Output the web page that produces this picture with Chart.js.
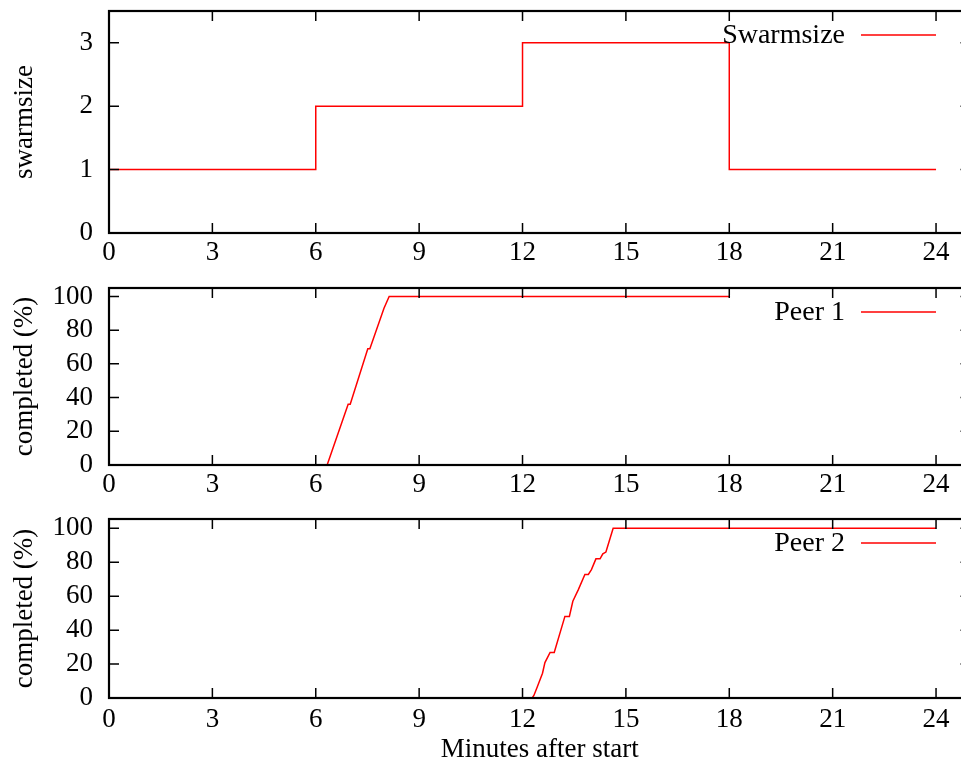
<!DOCTYPE html>
<html>
<head>
<meta charset="utf-8">
<script src="https://cdn.jsdelivr.net/npm/chart.js@4"></script>
<style>
  html, body { margin: 0; padding: 0; background: #fff; overflow: hidden; width: 961px; height: 763px; }
  .panel { position: absolute; left: 0; }
</style>
</head>
<body>
<div class="panel" style="top:0"><canvas id="swarm" width="975" height="270"></canvas></div>
<div class="panel" style="top:270px"><canvas id="peer1" width="975" height="230"></canvas></div>
<div class="panel" style="top:500px"><canvas id="peer2" width="975" height="266"></canvas></div>
<script>
// -------------------------
// Data
// -------------------------
const xTicks = [0, 3, 6, 9, 12, 15, 18, 21, 24];
const swarmTicks = [0, 1, 2, 3];
const pctTicks = [0, 20, 40, 60, 80, 100];

const swarmMinutes = [0, 0, 6, 12, 18, 24];
const swarmSize = [0, 1, 2, 3, 1, 1];

const peer1Minutes = [0, 6.33, 6.94, 7.0, 7.51, 7.57, 7.98, 8.13, 18];
const peer1Percent = [0, 0, 36, 36, 69, 69, 93, 100, 100];

const peer2Minutes = [0, 12.28, 12.33, 12.43, 12.58, 12.65, 12.80, 12.92, 13.23, 13.36, 13.46, 13.62, 13.81, 13.91, 14.0, 14.13, 14.25, 14.33, 14.42, 14.63, 24];
const peer2Percent = [0, 0, 1.5, 6.6, 14.6, 20.9, 26.8, 26.8, 48.1, 48.1, 57, 63.9, 72.8, 72.8, 75.7, 82, 82, 85, 86, 100, 100];

const FONT = 'Liberation Serif';
const toPoints = (xs, ys) => xs.map((x, i) => ({ x, y: ys[i] }));

// -------------------------
// gnuplot-like frame, inward ticks and key
// -------------------------
const gnuplotFrame = {
    id: 'gnuplotFrame',
    afterDatasetsDraw(chart) {
        const { ctx, chartArea: a, scales: { x, y } } = chart;
        ctx.save();
        ctx.strokeStyle = '#000';
        ctx.lineWidth = 1.5;
        ctx.beginPath();
        x.ticks.forEach(t => {
            const px = x.getPixelForValue(t.value);
            ctx.moveTo(px, a.bottom); ctx.lineTo(px, a.bottom - 10);
            ctx.moveTo(px, a.top); ctx.lineTo(px, a.top + 10);
        });
        y.ticks.forEach(t => {
            const py = y.getPixelForValue(t.value);
            ctx.moveTo(a.left, py); ctx.lineTo(a.left + 10, py);
            ctx.moveTo(a.right, py); ctx.lineTo(a.right - 10, py);
        });
        ctx.stroke();
        ctx.lineWidth = 2.2;
        ctx.strokeRect(a.left, a.top, a.right - a.left, a.bottom - a.top);

        // key, top right
        const ds = chart.data.datasets[0];
        const ky = a.top + 24;
        ctx.font = '28px "' + FONT + '"';
        ctx.fillStyle = '#000';
        ctx.textAlign = 'right';
        ctx.textBaseline = 'middle';
        ctx.fillText(ds.label, 845, ky + 1);
        ctx.strokeStyle = ds.borderColor;
        ctx.lineWidth = ds.borderWidth;
        ctx.beginPath();
        ctx.moveTo(861, ky); ctx.lineTo(936, ky);
        ctx.stroke();
        ctx.restore();
    }
};

function makePanel(id, label, points, yMax, yTicks, yTitle, opts) {
    const ctx = document.getElementById(id).getContext('2d');
    return new Chart(ctx, {
        type: 'line',
        data: {
            datasets: [{
                label: label,
                data: points,
                borderColor: '#ff0000',
                borderWidth: 1.5,
                pointRadius: 0,
                fill: false,
                tension: 0,
                stepped: opts.stepped || false
            }]
        },
        options: {
            responsive: false,
            animation: false,
            devicePixelRatio: 1,
            layout: { padding: { top: opts.top, right: 4.5, left: 0, bottom: 0 } },
            plugins: { legend: { display: false }, tooltip: { enabled: false } },
            scales: {
                x: {
                    type: 'linear',
                    min: 0,
                    max: 25,
                    grid: { display: false, drawTicks: false },
                    border: { display: false },
                    afterBuildTicks: s => { s.ticks = xTicks.map(v => ({ value: v })); },
                    afterFit: s => { s.height = opts.xHeight; s.paddingLeft = 0; s.paddingRight = 0; },
                    ticks: { color: '#000', font: { family: FONT, size: 27 }, padding: opts.xPad || 4, maxRotation: 0, autoSkip: false },
                    title: {
                        display: !!opts.xTitle,
                        text: opts.xTitle || '',
                        color: '#000',
                        font: { family: FONT, size: 27 },
                        padding: { top: 0, bottom: 0 }
                    }
                },
                y: {
                    min: 0,
                    max: yMax,
                    grid: { display: false, drawTicks: false },
                    border: { display: false },
                    afterBuildTicks: s => { s.ticks = yTicks.map(v => ({ value: v })); },
                    afterFit: s => { s.width = 109; s.paddingTop = 0; s.paddingBottom = 0; },
                    ticks: { color: '#000', font: { family: FONT, size: 27 }, padding: 16 },
                    title: {
                        display: true,
                        text: yTitle,
                        color: '#000',
                        font: { family: FONT, size: 27 },
                        padding: { top: 9, bottom: 0 }
                    }
                }
            }
        },
        plugins: [gnuplotFrame]
    });
}

makePanel('swarm', 'Swarmsize', toPoints(swarmMinutes, swarmSize), 3.5, swarmTicks, 'swarmsize',
    { top: 11, xHeight: 37, stepped: 'before' });
makePanel('peer1', 'Peer 1', toPoints(peer1Minutes, peer1Percent), 105, pctTicks, 'completed (%)',
    { top: 18, xHeight: 35 });
makePanel('peer2', 'Peer 2', toPoints(peer2Minutes, peer2Percent), 105.5, pctTicks, 'completed (%)',
    { top: 19, xHeight: 68, xPad: 6, xTitle: 'Minutes after start' });
</script>
</body>
</html>
